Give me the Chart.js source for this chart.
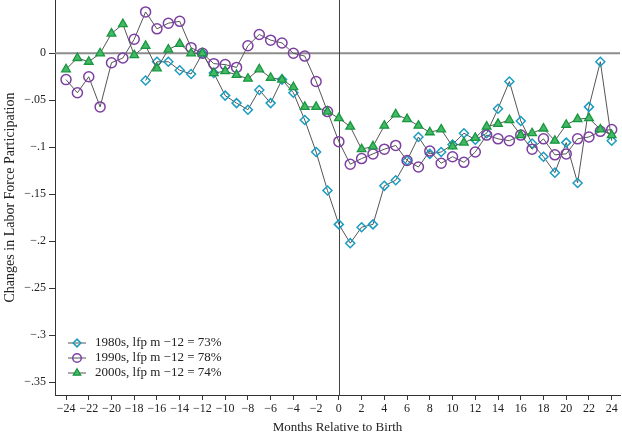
<!DOCTYPE html>
<html>
<head>
<meta charset="utf-8">
<script src="https://cdn.jsdelivr.net/npm/chart.js@4.4.1/dist/chart.umd.min.js"></script>
<style>
html,body{margin:0;padding:0;background:#fff;}
#wrap{width:622px;height:435px;position:relative;}
</style>
</head>
<body>
<div id="wrap"><canvas id="c" width="622" height="435"></canvas></div>
<script>
const months = [-24,-23,-22,-21,-20,-19,-18,-17,-16,-15,-14,-13,-12,-11,-10,-9,-8,-7,-6,-5,-4,-3,-2,-1,0,1,2,3,4,5,6,7,8,9,10,11,12,13,14,15,16,17,18,19,20,21,22,23,24];

const s1980 = [null,null,null,null,null,null,null,-0.029,-0.009,-0.009,-0.018,-0.022,0,-0.021,-0.045,-0.053,-0.060,-0.039,-0.053,-0.028,-0.042,-0.071,-0.105,-0.146,-0.182,-0.202,-0.185,-0.182,-0.141,-0.135,-0.114,-0.089,-0.107,-0.105,-0.097,-0.085,-0.092,-0.085,-0.059,-0.030,-0.072,-0.096,-0.110,-0.127,-0.095,-0.138,-0.057,-0.009,-0.093];

const s1990 = [-0.028,-0.042,-0.025,-0.057,-0.010,-0.005,0.015,0.044,0.026,0.032,0.034,0.006,0,-0.011,-0.012,-0.015,0.008,0.020,0.014,0.011,0.000,-0.003,-0.030,-0.062,-0.094,-0.118,-0.112,-0.107,-0.102,-0.098,-0.114,-0.121,-0.104,-0.117,-0.110,-0.116,-0.105,-0.087,-0.091,-0.093,-0.087,-0.102,-0.091,-0.108,-0.107,-0.091,-0.089,-0.083,-0.081];

const s2000 = [-0.017,-0.005,-0.009,0,0.021,0.031,-0.002,0.008,-0.016,0.004,0.010,0.000,0,-0.021,-0.019,-0.023,-0.027,-0.017,-0.026,-0.028,-0.036,-0.057,-0.057,-0.062,-0.069,-0.078,-0.102,-0.099,-0.077,-0.065,-0.070,-0.077,-0.084,-0.081,-0.099,-0.095,-0.090,-0.078,-0.075,-0.071,-0.087,-0.085,-0.080,-0.093,-0.076,-0.070,-0.069,-0.081,-0.087];

const seriesLabels = ["1980s, lfp m \u221212 = 73%", "1990s, lfp m \u221212 = 78%", "2000s, lfp m \u221212 = 74%"];

const xTickValues = [-24,-22,-20,-18,-16,-14,-12,-10,-8,-6,-4,-2,0,2,4,6,8,10,12,14,16,18,20,22,24];
const yTickValues = [0,-0.05,-0.1,-0.15,-0.2,-0.25,-0.3,-0.35];
const yTickLabels = ["0","\u2212.05","\u2212.1","\u2212.15","\u2212.2","\u2212.25","\u2212.3","\u2212.35"];

const FONT = "'Liberation Serif', 'DejaVu Serif', serif";

function pts(arr){ return months.map((m,i)=>({x:m,y:arr[i]})); }

const refLines = {
  id:'refLines',
  beforeDatasetsDraw(chart){
    const {ctx, chartArea:a, scales:{x,y}} = chart;
    ctx.save();
    const y0 = y.getPixelForValue(0);
    ctx.strokeStyle = '#8c8c8c'; ctx.lineWidth = 2;
    ctx.beginPath(); ctx.moveTo(a.left, y0); ctx.lineTo(a.right, y0); ctx.stroke();
    const x0 = x.getPixelForValue(0);
    ctx.strokeStyle = '#444'; ctx.lineWidth = 1;
    ctx.beginPath(); ctx.moveTo(Math.round(x0)+0.5, a.top); ctx.lineTo(Math.round(x0)+0.5, a.bottom); ctx.stroke();
    ctx.restore();
  }
};

const legendIn = {
  id:'legendIn',
  afterDraw(chart){
    const {ctx, chartArea:a} = chart;
    ctx.save();
    [0,1,2].forEach((di,k)=>{
      const ds = chart.data.datasets[di];
      const yy = a.bottom - 52 + k*15;
      const lx = a.left + 13;
      ctx.strokeStyle = ds.borderColor; ctx.lineWidth = 1;
      ctx.beginPath(); ctx.moveTo(lx, yy); ctx.lineTo(lx+18, yy); ctx.stroke();
      ctx.fillStyle = ds.pointBackgroundColor; ctx.strokeStyle = ds.pointBorderColor; ctx.lineWidth = ds.pointBorderWidth;
      Chart.helpers.drawPoint(ctx, {pointStyle: ds.pointStyle, radius: ds.pointRadius*0.85, borderWidth: ds.pointBorderWidth, rotation:0}, lx+9, yy);
      ctx.fillStyle = '#222';
      ctx.font = "13px " + FONT;
      ctx.textBaseline = 'middle'; ctx.textAlign = 'left';
      ctx.fillText(ds.label, lx + 27, yy);
    });
    ctx.restore();
  }
};

new Chart(document.getElementById('c'), {
  type:'line',
  data:{
    datasets:[
      {label:seriesLabels[0], data:pts(s1980), borderColor:'#555', borderWidth:1,
       pointStyle:'rectRot', pointRadius:4.5, pointBorderColor:'#1a9cc0', pointBackgroundColor:'rgba(255,255,255,0)', pointBorderWidth:1.5, order:2},
      {label:seriesLabels[1], data:pts(s1990), borderColor:'#555', borderWidth:1,
       pointStyle:'circle', pointRadius:5, pointBorderColor:'#7d3fa3', pointBackgroundColor:'rgba(255,255,255,0)', pointBorderWidth:1.5, order:1},
      {label:seriesLabels[2], data:pts(s2000), borderColor:'#555', borderWidth:1,
       pointStyle:'triangle', pointRadius:5, pointBorderColor:'#17973f', pointBackgroundColor:'#45b866', pointBorderWidth:1.3, order:0}
    ]
  },
  options:{
    responsive:false, animation:false,
    layout:{autoPadding:false, padding:{left:0,right:2,top:0,bottom:0}},
    plugins:{legend:{display:false}, tooltip:{enabled:false}},
    elements:{line:{tension:0}},
    scales:{
      x:{type:'linear', min:-24.97, max:24.73,
        afterBuildTicks(ax){ ax.ticks = xTickValues.map(v=>({value:v})); },
        afterFit(ax){ ax.height = 40; ax.paddingLeft = 0; ax.paddingRight = 0; },
        ticks:{autoSkip:false, maxRotation:0, padding:2, color:'#222', font:{family:FONT,size:12},
          callback:(v)=> (v<0? '\u2212'+Math.abs(v) : String(v))},
        grid:{display:true, drawOnChartArea:false, drawTicks:true, tickLength:5, color:'#333'},
        border:{display:true, color:'#333', width:1},
        title:{display:true, text:'Months Relative to Birth', color:'#222', font:{family:FONT,size:13}, padding:{top:6,bottom:0}}
      },
      y:{type:'linear', min:-0.3635, max:0.0567,
        afterBuildTicks(ax){ ax.ticks = yTickValues.slice().sort((a,b)=>a-b).map(v=>({value:v})); },
        afterFit(ax){ ax.width = 55; ax.paddingTop = 0; ax.paddingBottom = 0; },
        ticks:{autoSkip:false, padding:3, color:'#222', font:{family:FONT,size:12},
          callback:(v)=>{ const i = yTickValues.findIndex(t=>Math.abs(t-v)<1e-9); return i>=0? yTickLabels[i] : ''; }},
        grid:{display:true, drawOnChartArea:false, drawTicks:true, tickLength:6, color:'#333'},
        border:{display:true, color:'#333', width:1},
        title:{display:true, text:'Changes in Labor Force Participation', color:'#222', font:{family:FONT,size:14}, padding:{top:2,bottom:0}}
      }
    }
  },
  plugins:[refLines, legendIn]
});
</script>
</body>
</html>
